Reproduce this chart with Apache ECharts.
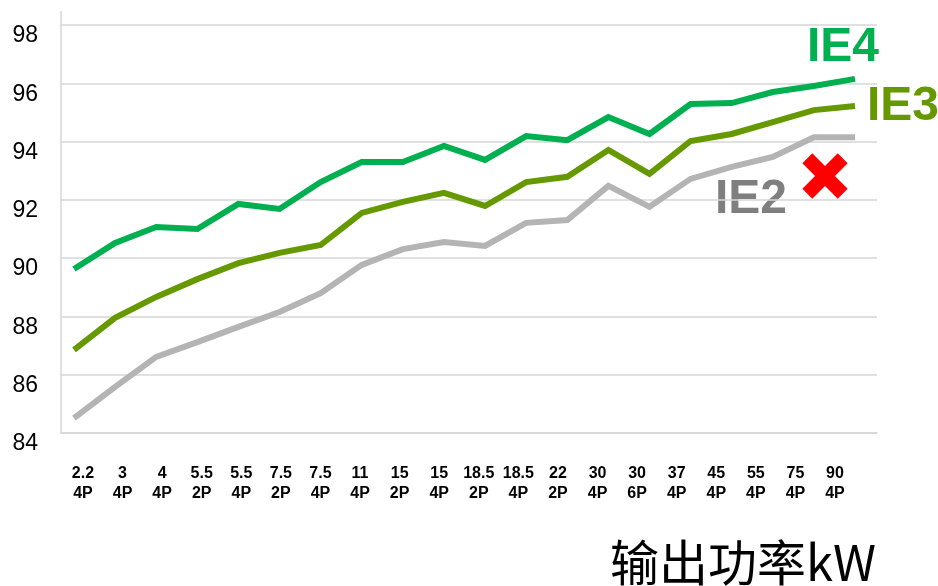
<!DOCTYPE html>
<html>
<head>
<meta charset="utf-8">
<script src="https://cdn.jsdelivr.net/npm/echarts@6/dist/echarts.min.js"></script>
<style>html,body{margin:0;padding:0;background:#fff;}#c{width:938px;height:586px;}</style>
</head>
<body>
<div id="c"></div>
<script>
// power (kW) and pole count for each category
var kw = ['2.2','3','4','5.5','5.5','7.5','7.5','11','15','15','18.5','18.5','22','30','30','37','45','55','75','90'];
var poles = ['4P','4P','4P','2P','4P','2P','4P','4P','2P','4P','2P','4P','2P','4P','6P','4P','4P','4P','4P','4P'];
// efficiency values (%)
var ie4 = [89.63,90.52,91.07,91.00,91.86,91.69,92.61,93.30,93.30,93.85,93.37,94.19,94.05,94.84,94.26,95.29,95.32,95.70,95.91,96.15];
var ie3 = [86.85,87.95,88.67,89.28,89.83,90.18,90.45,91.55,91.93,92.24,91.79,92.61,92.79,93.71,92.89,94.02,94.26,94.67,95.08,95.22];
var ie2 = [84.51,85.58,86.61,87.12,87.64,88.15,88.80,89.77,90.31,90.55,90.42,91.21,91.31,92.48,91.76,92.72,93.13,93.47,94.15,94.15];
var yMin = 84, yMax = 98, yStep = 2;
var seriesNames = ['IE4','IE3','IE2'];
var axisTitle = '输出功率kW';

var cats = kw.map(function(k, i){ return k + '\n' + poles[i]; });
var gridCol = '#d6d6d6';

var chart = echarts.init(document.getElementById('c'), null, {renderer:'canvas'});
chart.setOption({
  animation: false,
  backgroundColor: '#fff',
  grid: [
    {left: 53.45, right: 62.45, top: 25, bottom: 153, containLabel: false, outerBoundsMode: 'none'},
    {left: 61, right: 61, top: 25, bottom: 153, containLabel: false, outerBoundsMode: 'none'},
    {left: 63.2, right: 83.2, top: 25, bottom: 153, containLabel: false, outerBoundsMode: 'none'}
  ],
  xAxis: [
    {gridIndex: 0, type: 'category', data: cats, boundaryGap: true, show: false},
    {gridIndex: 1, type: 'category', data: cats, boundaryGap: true,
      axisLine: {show: true, lineStyle: {color: gridCol, width: 1.5}},
      axisTick: {show: false}, axisLabel: {show: false}, splitLine: {show: false}},
    {gridIndex: 2, type: 'category', data: cats, boundaryGap: true,
      axisLine: {show: false}, axisTick: {show: false}, splitLine: {show: false},
      axisLabel: {show: true, interval: 0, margin: 31, color: '#000',
        fontFamily: 'Liberation Sans, Arial, sans-serif', fontWeight: 'bold', fontSize: 16, lineHeight: 20}}
  ],
  yAxis: [
    {gridIndex: 0, type: 'value', min: yMin, max: yMax, interval: yStep, show: false},
    {gridIndex: 1, type: 'value', min: yMin, max: yMax, interval: yStep,
      axisLine: {show: true, lineStyle: {color: gridCol, width: 1.5}},
      axisTick: {show: false},
      splitLine: {show: true, lineStyle: {color: gridCol, width: 1.5}},
      axisLabel: {show: true, margin: 23, color: '#000', fontSize: 23,
        fontFamily: 'Liberation Sans, Arial, sans-serif', verticalAlign: 'top', lineHeight: 22}},
    {gridIndex: 2, type: 'value', min: yMin, max: yMax, show: false}
  ],
  series: [
    {name: seriesNames[0], type: 'line', xAxisIndex: 0, yAxisIndex: 0, data: ie4, symbol: 'none',
      lineStyle: {color: '#00b050', width: 6, join: 'miter'}, z: 5},
    {name: seriesNames[1], type: 'line', xAxisIndex: 0, yAxisIndex: 0, data: ie3, symbol: 'none',
      lineStyle: {color: '#669900', width: 6, join: 'miter'}, z: 4},
    {name: seriesNames[2], type: 'line', xAxisIndex: 0, yAxisIndex: 0, data: ie2, symbol: 'none',
      lineStyle: {color: '#b4b4b4', width: 6, join: 'miter'}, z: 3}
  ],
  graphic: [
    {type: 'line', shape: {x1: 61, y1: 11, x2: 61, y2: 25}, style: {stroke: gridCol, lineWidth: 1.5}},
    {type: 'text', x: 807, y: 48, style: {text: seriesNames[0], fill: '#00b050',
      font: 'bold 48px "Liberation Sans", Arial, sans-serif', align: 'left', verticalAlign: 'middle'}},
    {type: 'text', x: 867, y: 107, style: {text: seriesNames[1], fill: '#669900',
      font: 'bold 48px "Liberation Sans", Arial, sans-serif', align: 'left', verticalAlign: 'middle'}},
    {type: 'text', x: 715, y: 200, style: {text: seriesNames[2], fill: '#7f7f7f',
      font: 'bold 48px "Liberation Sans", Arial, sans-serif', align: 'left', verticalAlign: 'middle'}},
    {type: 'rect', x: 825, y: 176, rotation: Math.PI/4, shape: {x: -25, y: -7, width: 50, height: 14}, style: {fill: '#ff0000'}},
    {type: 'rect', x: 825, y: 176, rotation: -Math.PI/4, shape: {x: -25, y: -7, width: 50, height: 14}, style: {fill: '#ff0000'}},
    {type: 'text', x: 876, y: 562, style: {text: axisTitle, fill: '#000',
      font: '49px "Noto Sans CJK SC", sans-serif', align: 'right', verticalAlign: 'middle'}}
  ]
});
</script>
</body>
</html>
